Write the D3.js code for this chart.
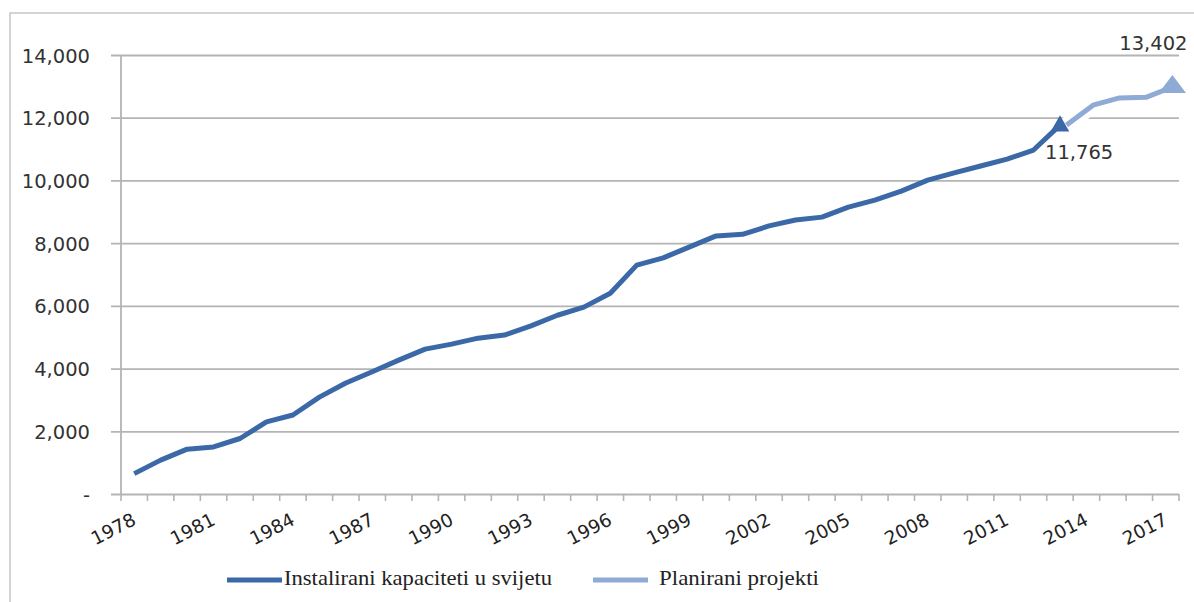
<!DOCTYPE html>
<html>
<head>
<meta charset="utf-8">
<script src="https://cdn.jsdelivr.net/npm/d3@7"></script>
<style>
  html, body { margin: 0; padding: 0; background: #fff; }
  svg { display: block; }
</style>
</head>
<body>
<svg id="chart" width="1194" height="602"></svg>
<script>
// ---- data ----
const years = ["1978","1979","1980","1981","1982","1983","1984","1985","1986","1987",
  "1988","1989","1990","1991","1992","1993","1994","1995","1996","1997",
  "1998","1999","2000","2001","2002","2003","2004","2005","2006","2007",
  "2008","2009","2010","2011","2012","2013","2014","2015","2016","2017"];
const installedYears = years.slice(0, 36);           // 1978–2013
const installedValues = [650, 1080, 1430, 1500, 1770, 2300, 2520, 3090, 3540, 3900,
  4270, 4620, 4780, 4970, 5070, 5360, 5700, 5960, 6400, 7300,
  7530, 7880, 8230, 8280, 8550, 8740, 8830, 9150, 9370, 9660,
  10010, 10240, 10460, 10680, 10970, 11765];
const plannedYears = ["2013","2014","2015","2016","2017"];
const plannedValues = [11765, 12400, 12630, 12650, 12980];
const yTicks = [0, 2000, 4000, 6000, 8000, 10000, 12000, 14000];
const xLabelYears = ["1978","1981","1984","1987","1990","1993","1996","1999","2002","2005","2008","2011","2014","2017"];
const endLabels = ["11,765", "13,402"];
const seriesNames = ["Instalirani kapaciteti u svijetu", "Planirani projekti"];

// ---- layout ----
const svg = d3.select("#chart");
const plotL = 121, plotR = 1179, plotT = 55, plotB = 494;
const darkBlue = "#3b69a7", lightBlue = "#8eaad5";
const gridColor = "#b4b4b4";
const tickFont = "'DejaVu Sans', sans-serif";

const x = d3.scaleBand().domain(years).range([plotL, plotR]).padding(0);
const y = d3.scaleLinear().domain([0, 14000]).range([plotB, plotT]);
const cx = d => x(d) + x.bandwidth() / 2;
const plannedShift = x.bandwidth() * 0.25;

// outer border
svg.append("rect").attr("x", 10).attr("y", 13).attr("width", 1200).attr("height", 620)
  .attr("fill", "none").attr("stroke", "#c6c6c6").attr("stroke-width", 1.5);

// y axis with gridlines
const yAxis = d3.axisLeft(y).tickValues(yTicks)
  .tickFormat(v => v === 0 ? "-" : d3.format(",")(v))
  .tickSizeOuter(0);
const gy = svg.append("g").attr("transform", `translate(${plotL},0)`).call(yAxis);
gy.select(".domain").remove();
gy.selectAll(".tick line")
  .attr("x1", -10).attr("x2", plotR - plotL)
  .attr("stroke", gridColor).attr("stroke-width", 1.8);
gy.selectAll(".tick text")
  .attr("x", -31).attr("dy", "0.36em")
  .attr("fill", "#333").style("font-family", tickFont).style("font-size", "19.5px");

// y axis line
svg.append("line").attr("x1", plotL).attr("x2", plotL).attr("y1", plotT).attr("y2", plotB)
  .attr("stroke", gridColor).attr("stroke-width", 1.8);

// x axis
const xAxis = d3.axisBottom(x).tickSizeOuter(0).tickSize(0).tickFormat("");
const gx = svg.append("g").attr("transform", `translate(0,${plotB})`).call(xAxis);
gx.select(".domain").remove();
const boundaries = years.map(d => x(d)).concat([plotR]);
gx.selectAll(".bound").data(boundaries).join("line").attr("class", "bound")
  .attr("x1", d => d).attr("x2", d => d).attr("y1", 0).attr("y2", 7)
  .attr("stroke", gridColor).attr("stroke-width", 1.6);
gx.selectAll(".xl").data(xLabelYears).join("text").attr("class", "xl")
  .attr("transform", d => `translate(${cx(d) + 3},${30}) rotate(-27)`)
  .attr("text-anchor", "end")
  .attr("fill", "#222").style("font-family", tickFont).style("font-size", "18.5px")
  .text(d => d);

// lines
const line = d3.line().x(d => cx(d[0])).y(d => y(d[1]));
const installed = installedYears.map((d, i) => [d, installedValues[i]]);
const planned = plannedYears.map((d, i) => [d, plannedValues[i]]);

svg.append("path").datum(installed).attr("d", line)
  .attr("fill", "none").attr("stroke", darkBlue).attr("stroke-width", 5)
  .attr("stroke-linejoin", "round");

const gp = svg.append("g").attr("transform", `translate(${plannedShift},0)`);
gp.append("path").datum(planned).attr("d", line)
  .attr("fill", "none").attr("stroke", "#fff").attr("stroke-width", 16)
  .attr("stroke-linejoin", "round");
gp.append("path").datum(planned).attr("d", line)
  .attr("fill", "none").attr("stroke", lightBlue).attr("stroke-width", 5)
  .attr("stroke-linejoin", "round");

// triangle markers at the series ends
const tri = d3.symbol().type(d3.symbolTriangle);
const lastI = installed[installed.length - 1];
const lastP = planned[planned.length - 1];
svg.append("path").attr("d", tri.size(150)())
  .attr("transform", `translate(${cx(lastI[0])},${y(lastI[1]) + 1})`)
  .attr("fill", darkBlue);
gp.append("path").attr("d", tri.size(190)())
  .attr("transform", `translate(${cx(lastP[0])},${y(lastP[1])}) scale(1.3,1)`)
  .attr("fill", lightBlue);

// end labels
svg.append("text").attr("x", cx(lastI[0]) - 15).attr("y", y(lastI[1]) + 34)
  .attr("fill", "#333").style("font-family", tickFont).style("font-size", "19.5px")
  .text(endLabels[0]);
svg.append("text").attr("x", cx(lastP[0]) + plannedShift - 19).attr("y", y(lastP[1]) - 37)
  .attr("text-anchor", "middle")
  .attr("fill", "#333").style("font-family", tickFont).style("font-size", "19.5px")
  .text(endLabels[1]);

// legend
const legend = [
  { name: seriesNames[0], color: darkBlue, x: 227, w: 268 },
  { name: seriesNames[1], color: lightBlue, x: 593, w: 160 }
];
const lg = svg.selectAll(".lg").data(legend).join("g").attr("class", "lg")
  .attr("transform", d => `translate(${d.x},580)`);
lg.append("line").attr("x1", 0).attr("x2", 55).attr("y1", 0).attr("y2", 0)
  .attr("stroke", d => d.color).attr("stroke-width", 5);
lg.append("text").attr("x", (d, i) => i === 0 ? 57 : 66).attr("y", 5)
  .attr("textLength", d => d.w).attr("lengthAdjust", "spacingAndGlyphs")
  .attr("fill", "#222").style("font-family", "'Liberation Serif', serif").style("font-size", "21px")
  .text(d => d.name);
</script>
</body>
</html>
